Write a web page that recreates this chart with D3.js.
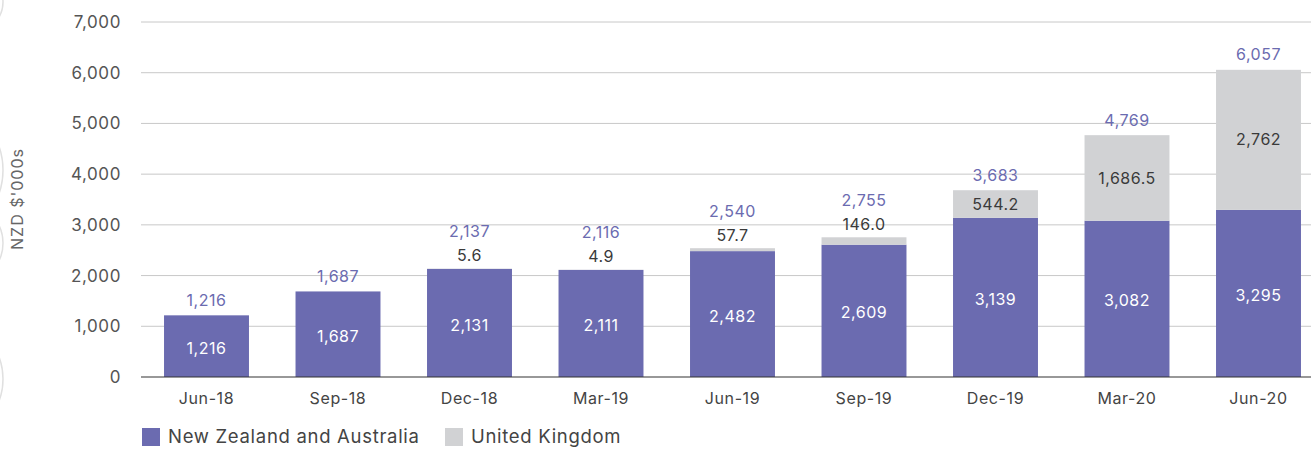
<!DOCTYPE html>
<html>
<head>
<meta charset="utf-8">
<script src="https://cdn.jsdelivr.net/npm/d3@7"></script>
<style>
  html, body { margin: 0; padding: 0; background: #fff; }
  svg { display: block; font-family: Inter, "Noto Sans", sans-serif; }
</style>
</head>
<body>
<svg id="chart" width="1311" height="449"></svg>
<script>
// Quarterly values, NZD $'000s
const quarters = ["Jun-18", "Sep-18", "Dec-18", "Mar-19", "Jun-19", "Sep-19", "Dec-19", "Mar-20", "Jun-20"];
const nzAus = [1216, 1687, 2131, 2111, 2482, 2609, 3139, 3082, 3295];
const uk = [0, 0, 5.6, 4.9, 57.7, 146.0, 544.2, 1686.5, 2762];
const totals = [1216, 1687, 2137, 2116, 2540, 2755, 3683, 4769, 6057];
const ukLabels = [null, null, "5.6", "4.9", "57.7", "146.0", "544.2", "1,686.5", "2,762"];
const yTicks = [0, 1000, 2000, 3000, 4000, 5000, 6000, 7000];
const seriesNames = ["New Zealand and Australia", "United Kingdom"];

const colors = { nz: "#6B6BB0", uk: "#D1D2D4" };
const fmt = d3.format(",");

const svg = d3.select("#chart");
const plotLeft = 141, plotRight = 1311, plotTop = 22, plotBottom = 377;

// faint page decorations along the left edge
svg.append("g")
  .selectAll("circle")
  .data([{ cy: 2, r: 30 }, { cy: 170, r: 68 }, { cy: 243, r: 40 }, { cy: 379, r: 60 }])
  .join("circle")
  .attr("cx", d => 3 - d.r).attr("cy", d => d.cy).attr("r", d => d.r)
  .attr("fill", "none").attr("stroke", "#e0e0e0").attr("stroke-width", 1.5);

const x = d3.scaleBand()
  .domain(quarters)
  .range([140.75, 1324.25])
  .paddingInner(0.354)
  .paddingOuter(0.177);

const y = d3.scaleLinear().domain([0, 7000]).range([plotBottom, plotTop]);

// gridlines
svg.append("g")
  .selectAll("line")
  .data(yTicks.filter(d => d > 0))
  .join("line")
  .attr("x1", plotLeft).attr("x2", plotRight)
  .attr("y1", d => y(d)).attr("y2", d => y(d))
  .attr("stroke", "#c8c8c8").attr("stroke-width", 1);

// y tick labels
const yAxis = svg.append("g")
  .attr("transform", `translate(${plotLeft},0)`)
  .call(d3.axisLeft(y).tickValues(yTicks).tickFormat(fmt).tickSize(0).tickPadding(20));
yAxis.select(".domain").remove();
yAxis.selectAll("text")
  .attr("font-family", "Inter, sans-serif")
  .attr("font-size", 17).attr("letter-spacing", 0.6).attr("fill", "#555");

// axis title
svg.append("text")
  .attr("transform", `translate(23,199) rotate(-90)`)
  .attr("text-anchor", "middle")
  .attr("font-size", 16).attr("letter-spacing", 1).attr("fill", "#666")
  .text("NZD $'000s");

const data = quarters.map((q, i) => ({ q, nz: nzAus[i], uk: uk[i], total: totals[i], ukLabel: ukLabels[i] }));

// NZ & Australia segments
svg.append("g").selectAll("rect")
  .data(data).join("rect")
  .attr("x", d => x(d.q)).attr("width", x.bandwidth())
  .attr("y", d => y(d.nz)).attr("height", d => y(0) - y(d.nz))
  .attr("fill", colors.nz);

// UK segments
svg.append("g").selectAll("rect")
  .data(data.filter(d => d.uk > 0)).join("rect")
  .attr("x", d => x(d.q)).attr("width", x.bandwidth())
  .attr("y", d => y(d.nz + d.uk)).attr("height", d => y(d.nz) - y(d.nz + d.uk))
  .attr("fill", colors.uk);

// baseline
svg.append("line")
  .attr("x1", plotLeft).attr("x2", plotRight)
  .attr("y1", y(0)).attr("y2", y(0))
  .attr("stroke", "#333").attr("stroke-width", 1.2);

const cx = d => x(d.q) + x.bandwidth() / 2;

// labels inside NZ segments
svg.append("g").selectAll("text")
  .data(data).join("text")
  .attr("x", cx)
  .attr("y", d => (y(0) + y(d.nz)) / 2 + 2)
  .attr("dy", "0.35em")
  .attr("text-anchor", "middle")
  .attr("font-size", 16).attr("letter-spacing", 0.5).attr("fill", "#fff")
  .text(d => fmt(d.nz));

// UK labels: inside when the segment is tall enough, otherwise above the bar
const ukInside = d => (y(d.nz) - y(d.nz + d.uk)) > 20;
svg.append("g").selectAll("text")
  .data(data.filter(d => d.ukLabel)).join("text")
  .attr("x", cx)
  .attr("y", d => ukInside(d) ? (y(d.nz) + y(d.nz + d.uk)) / 2 : y(d.nz + d.uk) - 13)
  .attr("dy", "0.35em")
  .attr("text-anchor", "middle")
  .attr("font-size", 16).attr("letter-spacing", 0.5).attr("fill", "#3a3a3a")
  .text(d => d.ukLabel);

// totals
svg.append("g").selectAll("text")
  .data(data).join("text")
  .attr("x", cx)
  .attr("y", d => {
    const topY = y(d.nz + d.uk);
    const above = d.ukLabel && !ukInside(d);
    return topY - (above ? 37 : 15);
  })
  .attr("dy", "0.35em")
  .attr("text-anchor", "middle")
  .attr("font-size", 16).attr("letter-spacing", 0.5).attr("fill", colors.nz)
  .text(d => fmt(d.total));

// x labels
svg.append("g").selectAll("text")
  .data(quarters).join("text")
  .attr("x", d => x(d) + x.bandwidth() / 2)
  .attr("y", 398)
  .attr("dy", "0.35em")
  .attr("text-anchor", "middle")
  .attr("font-size", 16).attr("letter-spacing", 0.6).attr("fill", "#444")
  .text(d => d);

// legend
const legend = svg.append("g").attr("transform", "translate(142,428)");
const legendItems = [
  { name: seriesNames[0], color: colors.nz, x: 0 },
  { name: seriesNames[1], color: colors.uk, x: 303 }
];
const li = legend.selectAll("g").data(legendItems).join("g")
  .attr("transform", d => `translate(${d.x},0)`);
li.append("rect").attr("width", 18).attr("height", 18).attr("fill", d => d.color);
li.append("text").attr("x", 26).attr("y", 8.5).attr("dy", "0.35em")
  .attr("font-size", 18.5).attr("letter-spacing", 0.7).attr("fill", "#444")
  .text(d => d.name);
</script>
</body>
</html>
